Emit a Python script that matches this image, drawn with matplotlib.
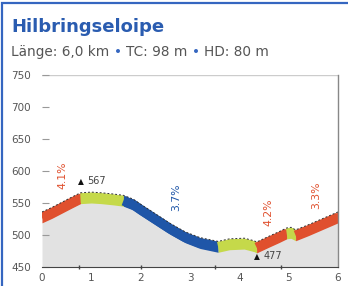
import matplotlib
matplotlib.use("Agg")
import matplotlib.pyplot as plt
from matplotlib.patches import Rectangle
import numpy as np

# ---- data ----
km = [0.0, 0.2, 0.4, 0.6, 0.78, 1.0, 1.2, 1.45, 1.65, 1.85, 2.0, 2.3, 2.6, 2.9, 3.2, 3.57,
      3.8, 4.1, 4.3, 4.35, 4.6, 4.8, 4.96, 5.05, 5.14, 5.4, 5.7, 6.0]
elev = [536, 543, 551, 559, 566, 567, 566, 564, 562, 556, 548, 533, 518, 505, 496, 490,
        494, 495, 491, 489, 498, 505, 511, 512, 508, 516, 526, 536]
seg_bounds = [0.0, 0.78, 1.65, 3.57, 4.35, 4.96, 5.14, 6.0]
seg_colors = ["#e0502e", "#c5d94a", "#1f56a8", "#c5d94a", "#e0502e", "#c5d94a", "#e0502e"]
grade_labels = ["4.1%", "3.7%", "4.2%", "3.3%"]
grade_pos = [(0.42, 594), (2.72, 559), (4.58, 536), (5.55, 562)]
grade_colors = ["#e0502e", "#1f56a8", "#e0502e", "#e0502e"]
peak = (0.78, 567)
low = (4.35, 477)
yticks = [450, 500, 550, 600, 650, 700, 750]
xticks = [0, 1, 2, 3, 4, 5, 6]
title = "Hilbringseloipe"
sub_parts = ["Länge: 6,0 km ", "• ", "TC: 98 m ", "• ", "HD: 80 m"]

fig = plt.figure(figsize=(3.48, 2.86), dpi=100)
ax = fig.add_axes([42/348, 19/286, 296/348, 192/286])
x = np.array(km, float)
y = np.array(elev, float)

ax.fill_between(x, 450, y, color="#e2e2e2", lw=0, zorder=1)
for i, c in enumerate(seg_colors):
    a, b = seg_bounds[i], seg_bounds[i+1]
    xs = np.linspace(a, b, 60)
    ys = np.interp(xs, x, y)
    ax.fill_between(xs, ys - 17, ys, color=c, lw=0, zorder=2)
    ax.plot(xs, ys - 8.5, color=c, lw=7, solid_capstyle="butt", zorder=2)
ax.plot(x, y, color="#333333", lw=0.7, ls=(0, (2, 2)), zorder=3)

for t, (px, py), c in zip(grade_labels, grade_pos, grade_colors):
    ax.text(px, py, t, rotation=90, color=c, fontsize=7.8, ha="center", va="center", zorder=4)

ax.text(peak[0], peak[1] + 10, "▲", fontsize=5.5, color="#111111", ha="center", va="bottom", zorder=4)
ax.text(peak[0] + 0.14, peak[1] + 9, "567", fontsize=7, color="#444444", ha="left", va="bottom", zorder=4)
ax.text(low[0], low[1] - 10, "▲", fontsize=5.5, color="#111111", ha="center", va="center", zorder=4)
ax.text(low[0] + 0.14, low[1] - 10, "477", fontsize=7, color="#444444", ha="left", va="center", zorder=4)

ax.set_xlim(0, 6)
ax.set_ylim(450, 750)
ax.set_xticks(xticks)
ax.set_yticks(yticks)
ax.tick_params(axis="y", direction="in", length=5, color="#999999", labelsize=7.5, labelcolor="#555555", pad=8)
ax.tick_params(axis="x", length=0, labelsize=7.5, labelcolor="#555555", pad=4)
for s in ["left", "top"]:
    ax.spines[s].set_visible(False)
ax.spines["right"].set_color("#888888")
ax.spines["right"].set_linewidth(1.0)
ax.spines["bottom"].set_color("#444444")
ax.spines["bottom"].set_linewidth(0.8)
ax.axhline(750, color="#cccccc", lw=1.0, zorder=0)
for m in [0.74, 2.0, 3.5, 4.85]:
    ax.plot([m], [450], marker="|", ms=3, color="#444444", clip_on=False, zorder=5)

# frame
fig.patches.append(Rectangle((2/348, -0.01), 1.01, (286-2)/286 + 0.01 - 1/286, transform=fig.transFigure,
                             fill=False, ec="#3566c0", lw=1.6))

fig.text(11/348, 1 - 27/286, title, fontsize=13, fontweight="bold", color="#2a5cb0", va="center", ha="left")
xpos = 11/348
renderer = fig.canvas.get_renderer()
for i, p in enumerate(sub_parts):
    col = "#3566c0" if p.startswith("•") else "#555555"
    t = fig.text(xpos, 1 - 52/286, p, fontsize=9.8, color=col, va="center", ha="left")
    bb = t.get_window_extent(renderer=renderer)
    xpos += bb.width / 348

fig.savefig("out.png", dpi=100)
